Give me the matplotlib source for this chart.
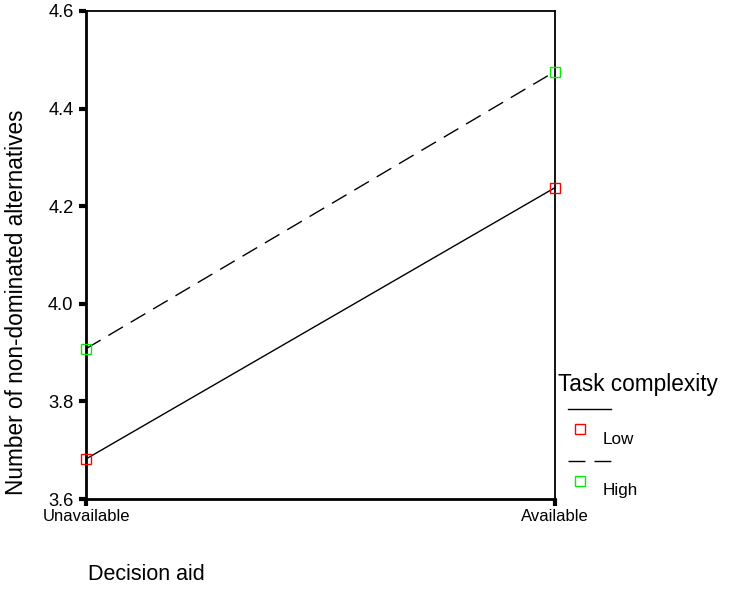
import matplotlib
matplotlib.use("Agg")
import matplotlib.pyplot as plt
from matplotlib.lines import Line2D

plt.rcParams['font.family'] = ['Liberation Sans', 'DejaVu Sans']

categories = ["Unavailable", "Available"]
low_values = [3.682, 4.238]
high_values = [3.908, 4.476]
yticks = [3.6, 3.8, 4.0, 4.2, 4.4, 4.6]
ytick_labels = ["3.6", "3.8", "4.0", "4.2", "4.4", "4.6"]

DASH = (12.2, 6.5)

fig = plt.figure(figsize=(7.3, 5.9), dpi=100)
ax = fig.add_axes([86/730, 91/590, (555-86)/730, (499-11)/590])

x = list(range(len(categories)))
ax.plot(x, low_values, color='black', lw=1.0, marker='s', markersize=7,
        markerfacecolor='none', markeredgecolor='#ff0000', markeredgewidth=1.0, clip_on=False, zorder=5)
ax.plot(x, high_values, color='black', lw=1.0, dashes=DASH, marker='s', markersize=7,
        markerfacecolor='none', markeredgecolor='#00ee00', markeredgewidth=1.0, clip_on=False, zorder=5)

ax.set_xlim(0, 1)
ax.set_ylim(3.6, 4.6)
ax.set_xticks(x)
ax.set_xticklabels(categories, fontsize=12)
ax.set_yticks(yticks)
ax.set_yticklabels(ytick_labels, fontsize=13.2)
ax.tick_params(axis='both', direction='out', length=5, width=3, color='black')
ax.tick_params(axis='x', pad=2)
ax.tick_params(axis='y', pad=4)
for s in ['top', 'right']:
    ax.spines[s].set_linewidth(1.3)
ax.spines['left'].set_linewidth(2.0)
ax.spines['bottom'].set_linewidth(2.0)

fig.text(28/730, 1 - 302/590, "Number of non-dominated alternatives", fontsize=16.3,
         rotation=90, ha='right', va='center')
fig.text(88/730, 1 - 574/590, "Decision aid", fontsize=15.5, ha='left', va='center')

# legend
fig.text(558/730, 1 - 385/590, "Task complexity", fontsize=16.3, ha='left', va='center')
fig.add_artist(Line2D([568/730, 611/730], [1 - 409/590, 1 - 409/590], color='black', lw=1.0,
                      transform=fig.transFigure))
fig.add_artist(Line2D([580/730], [1 - 429/590], marker='s', markersize=7, markerfacecolor='none',
                      markeredgecolor='#ff0000', markeredgewidth=1.0, linestyle='none',
                      transform=fig.transFigure))
fig.text(603/730, 1 - 439/590, "Low", fontsize=12.3, ha='left', va='center')
fig.add_artist(Line2D([568/730, 611/730], [1 - 461/590, 1 - 461/590], color='black', lw=1.0,
                      dashes=DASH, transform=fig.transFigure))
fig.add_artist(Line2D([580/730], [1 - 481/590], marker='s', markersize=7, markerfacecolor='none',
                      markeredgecolor='#00ee00', markeredgewidth=1.0, linestyle='none',
                      transform=fig.transFigure))
fig.text(603/730, 1 - 490/590, "High", fontsize=12.3, ha='left', va='center')

fig.savefig("out.png", dpi=100)
